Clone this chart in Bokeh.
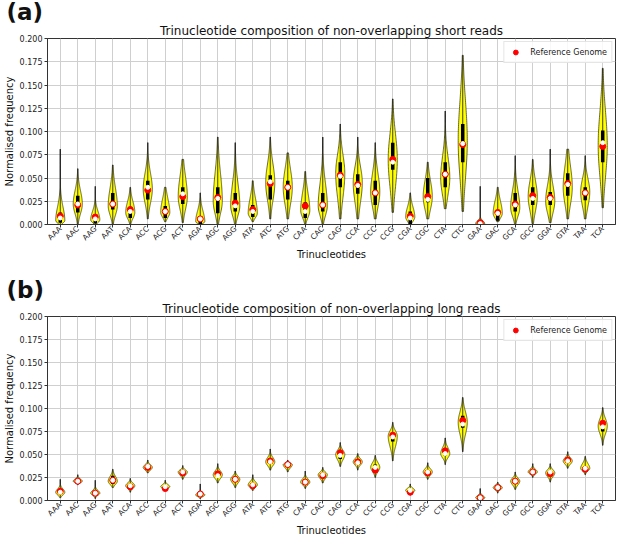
import math
import numpy as np
from bokeh.plotting import figure
from bokeh.models import (Range1d, FixedTicker, PrintfTickFormatter, Title,
                          ColumnDataSource, Legend, LegendItem)
from bokeh.layouts import column
from bokeh.embed import file_html
from bokeh.resources import INLINE

FONT = "DejaVu Sans"

cats = ["AAA", "AAC", "AAG", "AAT", "ACA", "ACC", "ACG", "ACT", "AGA", "AGC", "AGG",
        "ATA", "ATC", "ATG", "CAA", "CAC", "CAG", "CCA", "CCC", "CCG", "CGA", "CGC",
        "CTA", "CTC", "GAA", "GAC", "GCA", "GCC", "GGA", "GTA", "TAA", "TCA"]
yticks = [0.0, 0.025, 0.05, 0.075, 0.1, 0.125, 0.15, 0.175, 0.2]

# ---- panel (a): short reads ----
a_min = [0.000, 0.000, 0.000, 0.000, 0.000, 0.006, 0.003, 0.002, 0.000, 0.000, 0.000,
         0.003, 0.006, 0.006, 0.000, 0.000, 0.006, 0.006, 0.006, 0.013, 0.000, 0.006,
         0.017, 0.014, 0.000, 0.003, 0.000, 0.001, 0.002, 0.006, 0.006, 0.018]
a_max = [0.081, 0.060, 0.041, 0.064, 0.040, 0.088, 0.040, 0.070, 0.034, 0.094, 0.088,
         0.047, 0.094, 0.077, 0.057, 0.094, 0.108, 0.094, 0.088, 0.135, 0.034, 0.067,
         0.122, 0.182, 0.041, 0.040, 0.074, 0.070, 0.081, 0.081, 0.074, 0.168]
a_mode = [0.004, 0.022, 0.005, 0.020, 0.013, 0.038, 0.013, 0.030, 0.003, 0.025, 0.020,
          0.012, 0.045, 0.040, 0.015, 0.020, 0.055, 0.045, 0.035, 0.070, 0.008, 0.030,
          0.050, 0.090, 0.001, 0.012, 0.018, 0.030, 0.025, 0.040, 0.035, 0.085]
a_body_lo = [0.000, 0.004, 0.000, 0.003, 0.002, 0.012, 0.004, 0.006, 0.000, 0.002, 0.002,
             0.004, 0.012, 0.008, 0.002, 0.002, 0.010, 0.008, 0.007, 0.018, 0.000, 0.006,
             0.018, 0.020, 0.000, 0.003, 0.002, 0.003, 0.003, 0.008, 0.008, 0.025]
a_body_hi = [0.030, 0.047, 0.021, 0.053, 0.033, 0.068, 0.038, 0.068, 0.023, 0.077, 0.062,
             0.040, 0.080, 0.074, 0.048, 0.062, 0.090, 0.075, 0.070, 0.118, 0.027, 0.060,
             0.090, 0.165, 0.006, 0.035, 0.050, 0.060, 0.055, 0.080, 0.060, 0.150]
a_q1 = [0.002, 0.013, 0.001, 0.016, 0.007, 0.027, 0.007, 0.022, 0.000, 0.012, 0.014,
        0.008, 0.027, 0.027, 0.007, 0.014, 0.040, 0.033, 0.021, 0.059, 0.000, 0.024,
        0.040, 0.067, 0.000, 0.004, 0.014, 0.021, 0.021, 0.031, 0.026, 0.067]
a_med = [0.007, 0.022, 0.006, 0.022, 0.014, 0.040, 0.014, 0.033, 0.006, 0.028, 0.020,
         0.014, 0.046, 0.040, 0.014, 0.021, 0.052, 0.042, 0.034, 0.067, 0.007, 0.027,
         0.054, 0.087, 0.001, 0.012, 0.021, 0.028, 0.028, 0.043, 0.034, 0.088]
a_q3 = [0.013, 0.031, 0.010, 0.034, 0.019, 0.047, 0.020, 0.040, 0.008, 0.040, 0.034,
        0.021, 0.053, 0.047, 0.024, 0.034, 0.067, 0.054, 0.047, 0.088, 0.014, 0.050,
        0.067, 0.108, 0.002, 0.014, 0.034, 0.040, 0.035, 0.055, 0.040, 0.101]
a_ref = [0.009, 0.021, 0.008, 0.022, 0.016, 0.037, 0.014, 0.030, 0.006, 0.029, 0.023,
         0.016, 0.044, 0.040, 0.020, 0.021, 0.053, 0.043, 0.034, 0.070, 0.009, 0.030,
         0.054, 0.086, 0.002, 0.013, 0.022, 0.031, 0.029, 0.044, 0.034, 0.084]

# ---- panel (b): long reads ----
b_min = [0.003, 0.017, 0.002, 0.014, 0.009, 0.030, 0.011, 0.023, 0.002, 0.019, 0.014,
         0.011, 0.033, 0.031, 0.013, 0.019, 0.037, 0.033, 0.025, 0.043, 0.006, 0.023,
         0.039, 0.053, 0.000, 0.008, 0.012, 0.025, 0.020, 0.035, 0.028, 0.060]
b_max = [0.023, 0.028, 0.022, 0.034, 0.024, 0.044, 0.022, 0.038, 0.018, 0.040, 0.032,
         0.028, 0.056, 0.044, 0.032, 0.036, 0.063, 0.051, 0.049, 0.085, 0.018, 0.041,
         0.068, 0.112, 0.013, 0.020, 0.031, 0.040, 0.040, 0.053, 0.048, 0.101]
b_mode = [0.009, 0.021, 0.008, 0.021, 0.016, 0.036, 0.015, 0.031, 0.006, 0.028, 0.023,
          0.017, 0.042, 0.039, 0.020, 0.028, 0.050, 0.042, 0.036, 0.070, 0.011, 0.031,
          0.051, 0.085, 0.003, 0.014, 0.021, 0.031, 0.030, 0.043, 0.035, 0.081]
b_body_lo = [0.004, 0.018, 0.004, 0.015, 0.011, 0.031, 0.012, 0.025, 0.003, 0.021, 0.016,
             0.012, 0.035, 0.033, 0.015, 0.021, 0.040, 0.036, 0.028, 0.050, 0.007, 0.025,
             0.043, 0.062, 0.000, 0.010, 0.014, 0.027, 0.023, 0.037, 0.030, 0.066]
b_body_hi = [0.015, 0.025, 0.013, 0.030, 0.021, 0.041, 0.019, 0.035, 0.010, 0.035, 0.029,
             0.023, 0.050, 0.042, 0.026, 0.033, 0.058, 0.048, 0.045, 0.080, 0.015, 0.037,
             0.062, 0.105, 0.007, 0.018, 0.027, 0.036, 0.036, 0.049, 0.044, 0.095]
b_q1 = [0.007, 0.020, 0.007, 0.018, 0.015, 0.035, 0.014, 0.030, 0.005, 0.026, 0.021,
        0.016, 0.040, 0.038, 0.018, 0.027, 0.045, 0.040, 0.033, 0.064, 0.010, 0.030,
        0.049, 0.079, 0.002, 0.013, 0.019, 0.030, 0.027, 0.041, 0.033, 0.075]
b_med = [0.009, 0.021, 0.008, 0.022, 0.016, 0.037, 0.015, 0.031, 0.007, 0.027, 0.023,
         0.017, 0.042, 0.039, 0.020, 0.028, 0.049, 0.041, 0.036, 0.069, 0.011, 0.031,
         0.051, 0.083, 0.003, 0.014, 0.021, 0.031, 0.031, 0.043, 0.035, 0.080]
b_q3 = [0.011, 0.022, 0.009, 0.027, 0.018, 0.038, 0.016, 0.032, 0.008, 0.030, 0.025,
        0.019, 0.045, 0.040, 0.022, 0.029, 0.052, 0.043, 0.039, 0.073, 0.012, 0.033,
        0.053, 0.092, 0.004, 0.015, 0.023, 0.033, 0.033, 0.045, 0.037, 0.083]
b_ref = [0.010, 0.021, 0.008, 0.022, 0.015, 0.036, 0.013, 0.030, 0.007, 0.029, 0.023,
         0.016, 0.043, 0.039, 0.020, 0.027, 0.052, 0.042, 0.033, 0.071, 0.009, 0.030,
         0.054, 0.087, 0.003, 0.014, 0.021, 0.031, 0.029, 0.044, 0.034, 0.084]

HALF = 0.26  # half of violin width, in category units
W = 617


def violin_outline(xc, lo, hi, mode, blo, bhi, n=80):
    ys = np.unique(np.concatenate([np.linspace(lo, hi, n), [mode]]))
    s_lo = max((mode - blo) / 1.75, 1e-4)
    s_hi = max((bhi - mode) / 1.75, 1e-4)
    z = np.where(ys < mode, (ys - mode) / s_lo, (ys - mode) / s_hi)
    w = HALF * np.exp(-0.5 * z * z)
    xs = np.concatenate([xc - w, (xc + w)[::-1]])
    yy = np.concatenate([ys, ys[::-1]])
    return list(xs), list(yy)


def build(title, tag, mn, mx, mode, blo, bhi, q1, med, q3, ref, height, top):
    xpos = list(range(1, len(cats) + 1))
    p = figure(width=W, height=height, output_backend="svg", toolbar_location=None,
               title=None,
               x_range=Range1d(0.27, len(cats) + 0.73), y_range=Range1d(yticks[0], yticks[-1]),
               min_border_left=42, min_border_right=2, min_border_top=top,
               min_border_bottom=34)
    p.add_layout(Title(text=title, align="center", text_font=FONT, text_font_size="12px",
                       text_font_style="normal", text_color="#111111", standoff=1), "above")
    p.add_layout(Title(text=tag, align="left", offset=-41, text_font=FONT,
                       text_font_size="23px", text_font_style="bold",
                       text_color="#111111", standoff=-7), "above")

    p.xaxis.ticker = FixedTicker(ticks=xpos)
    p.xaxis.major_label_overrides = {x: c for x, c in zip(xpos, cats)}
    p.xaxis.major_label_orientation = math.pi / 4
    p.yaxis.ticker = FixedTicker(ticks=yticks)
    p.yaxis.formatter = PrintfTickFormatter(format="%.3f")
    p.xaxis.axis_label = "Trinucleotides"
    p.yaxis.axis_label = "Normalised frequency"
    for ax in p.axis:
        ax.axis_label_text_font = FONT
        ax.axis_label_text_font_size = "10px"
        ax.axis_label_text_font_style = "normal"
        ax.axis_label_text_color = "#111111"
        ax.major_label_text_font = FONT
        ax.major_label_text_font_size = "8px"
        ax.major_label_text_color = "#222222"
        ax.axis_line_color = "#333333"
        ax.major_tick_line_color = "#333333"
        ax.major_tick_out = 3
        ax.major_tick_in = 0
        ax.minor_tick_line_color = None
        ax.major_label_standoff = 2
        ax.axis_label_standoff = 2
    p.xaxis.major_label_text_font_size = "7.5px"
    p.xaxis.major_label_standoff = 0
    p.xaxis.axis_label_standoff = 0
    p.outline_line_color = "#333333"
    p.outline_line_width = 1
    p.grid.grid_line_color = "#cfcfcf"
    p.grid.grid_line_width = 1
    p.background_fill_color = "white"

    xs_list, ys_list = [], []
    for i, x in enumerate(xpos):
        xs, ys = violin_outline(x, mn[i], mx[i], mode[i], blo[i], bhi[i])
        xs_list.append(xs)
        ys_list.append(ys)
    p.patches(xs_list, ys_list, fill_color="#ffff00", fill_alpha=1.0,
              line_color="#222222", line_width=0.8, line_alpha=0.85)

    src = ColumnDataSource(dict(x=xpos, mn=mn, mx=mx, q1=q1, med=med, q3=q3, ref=ref))
    p.segment(x0="x", y0="mn", x1="x", y1="mx", source=src, line_color="#111111",
              line_width=1, line_alpha=0.8)
    p.segment(x0="x", y0="q1", x1="x", y1="q3", source=src, line_color="black",
              line_width=3.5)
    r_ref = p.scatter(x="x", y="ref", source=src, size=6, fill_color="red",
                      line_color="red")
    p.scatter(x="x", y="med", source=src, size=4, fill_color="white", line_color="white")

    legend = Legend(items=[LegendItem(label="Reference Genome", renderers=[r_ref])],
                    location="top_right")
    legend.label_text_font = FONT
    legend.label_text_font_size = "8px"
    legend.label_text_color = "#222222"
    legend.border_line_color = "#cccccc"
    legend.border_line_width = 1
    legend.background_fill_alpha = 0.85
    legend.padding = 4
    legend.margin = 3
    legend.spacing = 0
    legend.glyph_width = 14
    legend.glyph_height = 12
    legend.label_height = 12
    legend.label_standoff = 8
    p.add_layout(legend)
    return p


pa = build("Trinucleotide composition of non-overlapping short reads", "(a)",
           a_min, a_max, a_mode, a_body_lo, a_body_hi, a_q1, a_med, a_q3, a_ref, 262, 37)
pb = build("Trinucleotide composition of non-overlapping long reads", "(b)",
           b_min, b_max, b_mode, b_body_lo, b_body_hi, b_q1, b_med, b_q3, b_ref, 276, 54)

layout = column(pa, pb, spacing=0)
open("out.html", "w").write(file_html(layout, INLINE))
